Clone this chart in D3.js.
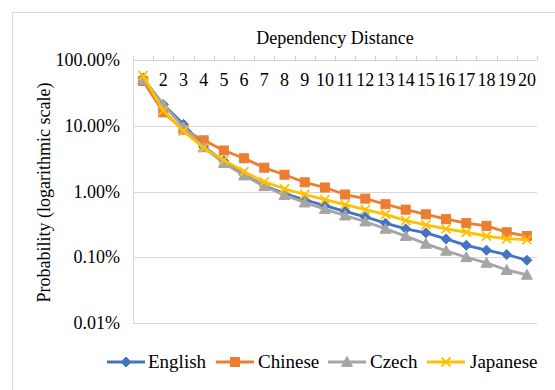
<!DOCTYPE html>
<html><head><meta charset="utf-8">
<script src="https://cdn.jsdelivr.net/npm/d3@7"></script>
</head>
<body style="margin:0">
<svg id="chart" width="555" height="390"></svg>
<script>
const categories = d3.range(1, 21).map(String);
const english  = [52, 21, 10.5, 4.8, 2.9, 1.8, 1.22, 0.93, 0.75, 0.61, 0.5, 0.41, 0.33, 0.27, 0.235, 0.19, 0.152, 0.128, 0.11, 0.09];
const chinese  = [48, 16, 8.7, 6.0, 4.2, 3.2, 2.3, 1.8, 1.38, 1.15, 0.9, 0.78, 0.64, 0.53, 0.45, 0.38, 0.33, 0.3, 0.24, 0.21];
const czech    = [50, 21, 9.5, 4.7, 2.7, 1.75, 1.2, 0.88, 0.68, 0.54, 0.43, 0.35, 0.27, 0.21, 0.16, 0.125, 0.10, 0.082, 0.064, 0.054];
const japanese = [58, 17, 8.3, 4.6, 3.0, 2.0, 1.4, 1.1, 0.9, 0.75, 0.63, 0.53, 0.45, 0.36, 0.31, 0.27, 0.24, 0.21, 0.19, 0.185];
const seriesNames = ["English", "Chinese", "Czech", "Japanese"];
const yTicks = [100, 10, 1, 0.1, 0.01];
const title = "Dependency Distance";
const yTitle = "Probability (logarithmic scale)";

const series = [
  {name: seriesNames[0], values: english,  color: "#4472C4", marker: "diamond"},
  {name: seriesNames[1], values: chinese,  color: "#ED7D31", marker: "square"},
  {name: seriesNames[2], values: czech,    color: "#A5A5A5", marker: "triangle"},
  {name: seriesNames[3], values: japanese, color: "#FFC000", marker: "x"}
];

const svg = d3.select("#chart");
const L = 133, R = 537, T = 60, B = 323;

svg.append("rect").attr("x", 12.5).attr("y", 12.5).attr("width", 600).attr("height", 600)
  .attr("fill", "none").attr("stroke", "#d9d9d9").attr("stroke-width", 1);

const x = d3.scaleBand().domain(categories).range([L, R]).padding(0);
const y = d3.scaleLog().domain([0.01, 100]).range([B, T]);

svg.append("g").selectAll("line").data(yTicks).join("line")
  .attr("x1", L).attr("x2", R)
  .attr("y1", d => Math.round(y(d)) + 0.5).attr("y2", d => Math.round(y(d)) + 0.5)
  .attr("stroke", "#d9d9d9").attr("stroke-width", 1);
svg.append("line").attr("x1", L + 0.5).attr("x2", L + 0.5).attr("y1", T).attr("y2", B)
  .attr("stroke", "#d9d9d9");

// y tick labels from the scale
yTicks.forEach(d => {
  svg.append("text").attr("x", L - 13).attr("y", y(d) + 6)
    .attr("text-anchor", "end").attr("font-size", 18)
    .style("font-family", '"Liberation Serif"')
    .text(d.toFixed(2) + "%");
});

// category labels along the top
categories.forEach(d => {
  svg.append("text").attr("x", x(d) + x.bandwidth() / 2).attr("y", T + 26)
    .attr("text-anchor", "middle").attr("font-size", 18)
    .style("font-family", '"Liberation Serif"')
    .text(d);
});
const bounds = categories.map(c => x(c)).concat([x(categories[categories.length - 1]) + x.bandwidth()]);
svg.append("g").selectAll("line").data(bounds).join("line")
  .attr("x1", d => Math.round(d) + 0.5).attr("x2", d => Math.round(d) + 0.5)
  .attr("y1", T - 4).attr("y2", T).attr("stroke", "#d0d0d0");
svg.append("line").attr("x1", L).attr("x2", R).attr("y1", T + 0.5).attr("y2", T + 0.5)
  .attr("stroke", "#d0d0d0");

svg.append("text").attr("x", (L + R) / 2).attr("y", 44).attr("text-anchor", "middle")
  .attr("font-size", 18).style("font-family", '"Liberation Serif"').text(title);

svg.append("text").attr("transform", `translate(50,${(T + B) / 2 + 1}) rotate(-90)`)
  .attr("text-anchor", "middle").attr("font-size", 18).style("font-family", '"Liberation Serif"')
  .text(yTitle);

function drawMarker(g, type, cx, cy, color) {
  if (type === "diamond") {
    const s = 5;
    g.append("path").attr("d", `M${cx},${cy - s}L${cx + s},${cy}L${cx},${cy + s}L${cx - s},${cy}Z`)
      .attr("fill", color).attr("stroke", color).attr("stroke-width", 1);
  } else if (type === "square") {
    const s = 4.5;
    g.append("rect").attr("x", cx - s).attr("y", cy - s).attr("width", 2 * s).attr("height", 2 * s)
      .attr("fill", color).attr("stroke", color);
  } else if (type === "triangle") {
    const s = 5.5;
    g.append("path").attr("d", `M${cx},${cy - s}L${cx + s},${cy + s * 0.8}L${cx - s},${cy + s * 0.8}Z`)
      .attr("fill", color).attr("stroke", color);
  } else {
    const s = 4.5;
    g.append("path").attr("d", `M${cx - s},${cy - s}L${cx + s},${cy + s}M${cx + s},${cy - s}L${cx - s},${cy + s}`)
      .attr("stroke", color).attr("stroke-width", 1.8).attr("fill", "none");
  }
}

const line = d3.line().x((d, i) => x(categories[i]) + x.bandwidth() / 2).y(d => y(d));
series.forEach(s => {
  const g = svg.append("g");
  g.append("path").attr("d", line(s.values)).attr("fill", "none")
    .attr("stroke", s.color).attr("stroke-width", 2.8).attr("stroke-linejoin", "round");
  s.values.forEach((v, i) => drawMarker(g, s.marker, x(categories[i]) + x.bandwidth() / 2, y(v), s.color));
});

const legendItems = [
  {lx: 107, tx: 148}, {lx: 216, tx: 258}, {lx: 328, tx: 370}, {lx: 427, tx: 470}
];
const ly = 362;
series.forEach((s, i) => {
  const g = svg.append("g");
  const it = legendItems[i];
  g.append("line").attr("x1", it.lx).attr("x2", it.lx + 38).attr("y1", ly).attr("y2", ly)
    .attr("stroke", s.color).attr("stroke-width", 2.8);
  drawMarker(g, s.marker, it.lx + 19, ly, s.color);
  svg.append("text").attr("x", it.tx).attr("y", ly + 6).attr("font-size", 19)
    .style("font-family", '"Liberation Serif"')
    .text(s.name);
});
</script>
</body></html>
